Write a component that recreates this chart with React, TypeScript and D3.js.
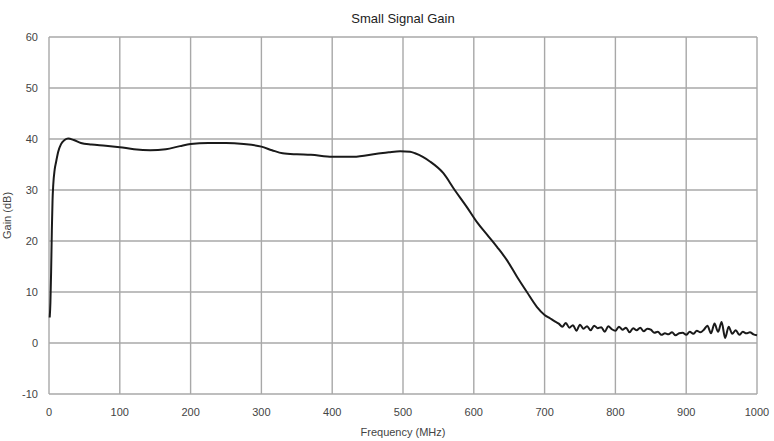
import React, { useEffect, useRef } from 'react';
import * as d3 from 'd3';

// Smooth part of the trace (MHz / dB)
const freqMain = [1, 2, 3, 4, 5, 6, 8, 10, 13, 17, 22, 27, 35, 45, 60, 80, 100, 120, 143, 165, 185, 200, 225, 250, 275, 300, 315, 330, 350, 370, 400, 430, 463, 480, 496, 510, 517, 528, 538, 557, 573, 590, 605, 619, 633, 647, 661, 675, 689, 700, 708, 715];
const gainMain = [5, 8, 14, 22, 28, 31, 34, 35.5, 37.5, 39, 39.8, 40.1, 39.8, 39.2, 38.9, 38.7, 38.4, 38.0, 37.8, 38.0, 38.6, 39.0, 39.2, 39.2, 39.0, 38.5, 37.8, 37.2, 37.0, 36.9, 36.5, 36.5, 37.1, 37.4, 37.6, 37.5, 37.2, 36.5, 35.6, 33.3, 30, 26.7, 23.6, 21.2, 18.8, 16.2, 13, 10, 7.1, 5.5, 4.8, 4.2];

// Noisy tail above the cutoff, read every 5 MHz
const freqTail = [720, 725, 730, 735, 740, 745, 750, 755, 760, 765, 770, 775, 780, 785, 790, 795, 800, 805, 810, 815, 820, 825, 830, 835, 840, 845, 850, 855, 860, 865, 870, 875, 880, 885, 890, 895, 900, 905, 910, 915, 920, 925, 930, 935, 940, 945, 950, 955, 960, 965, 970, 975, 980, 985, 990, 995, 1000];
const gainTail = [3.8, 3.2, 3.9, 3.0, 3.5, 2.4, 3.6, 2.8, 3.3, 2.5, 3.4, 2.9, 3.1, 2.2, 3.3, 2.7, 2.4, 3.2, 2.6, 3.0, 2.1, 2.9, 2.5, 3.0, 2.3, 2.8, 2.6, 2.0, 2.2, 1.6, 1.9, 1.7, 2.1, 1.5, 1.9, 2.0, 1.6, 2.2, 1.8, 2.4, 2.1, 2.6, 3.4, 1.9, 3.8, 2.2, 4.1, 1.0, 3.2, 1.8, 2.5, 1.6, 2.2, 1.9, 2.1, 1.7, 1.5];

const xTicks = [0, 100, 200, 300, 400, 500, 600, 700, 800, 900, 1000];
const yTicks = [-10, 0, 10, 20, 30, 40, 50, 60];

const W = 774;
const H = 441;
const FONT = 'Liberation Sans, Arial, sans-serif';

const App: React.FC = () => {
  const svgRef = useRef<SVGSVGElement>(null);

  useEffect(() => {
    const svg = d3.select(svgRef.current);
    svg.selectAll('*').remove();

    const margin = { top: 37, right: 17, bottom: 47, left: 49 };
    const innerW = W - margin.left - margin.right;
    const innerH = H - margin.top - margin.bottom;

    const x = d3.scaleLinear().domain([0, 1000]).range([0, innerW]);
    const y = d3.scaleLinear().domain([-10, 60]).range([innerH, 0]);

    const data: [number, number][] = [
      ...freqMain.map((f, i) => [f, gainMain[i]] as [number, number]),
      ...freqTail.map((f, i) => [f, gainTail[i]] as [number, number]),
    ];

    svg.append('rect').attr('width', W).attr('height', H).attr('fill', '#fff');

    const g = svg.append('g').attr('transform', `translate(${margin.left},${margin.top})`);

    // Grid
    g.selectAll('.vgrid')
      .data(xTicks)
      .enter()
      .append('line')
      .attr('x1', d => x(d))
      .attr('x2', d => x(d))
      .attr('y1', 0)
      .attr('y2', innerH)
      .attr('stroke', '#a8a8a8')
      .attr('stroke-width', 1.4);

    g.selectAll('.hgrid')
      .data(yTicks)
      .enter()
      .append('line')
      .attr('x1', 0)
      .attr('x2', innerW)
      .attr('y1', d => y(d))
      .attr('y2', d => y(d))
      .attr('stroke', '#a8a8a8')
      .attr('stroke-width', 1.4);

    // Tick labels
    g.selectAll('.ylab')
      .data(yTicks)
      .enter()
      .append('text')
      .attr('x', -11)
      .attr('y', d => y(d))
      .attr('dy', '0.35em')
      .attr('text-anchor', 'end')
      .attr('font-family', FONT)
      .attr('font-size', 11)
      .attr('fill', '#444')
      .text(d => d);

    g.selectAll('.xlab')
      .data(xTicks)
      .enter()
      .append('text')
      .attr('x', d => x(d))
      .attr('y', innerH + 22)
      .attr('text-anchor', 'middle')
      .attr('font-family', FONT)
      .attr('font-size', 11)
      .attr('fill', '#444')
      .text(d => d);

    // Trace
    const line = d3.line<[number, number]>()
      .x(d => x(d[0]))
      .y(d => y(d[1]))
      .curve(d3.curveMonotoneX);

    g.append('path')
      .datum(data)
      .attr('d', line)
      .attr('fill', 'none')
      .attr('stroke', '#1a1a1a')
      .attr('stroke-width', 2)
      .attr('stroke-linejoin', 'round');

    // Titles
    svg.append('text')
      .attr('x', margin.left + innerW / 2)
      .attr('y', 23)
      .attr('text-anchor', 'middle')
      .attr('font-family', FONT)
      .attr('font-size', 13)
      .attr('fill', '#222')
      .text('Small Signal Gain');

    svg.append('text')
      .attr('x', margin.left + innerW / 2)
      .attr('y', 436)
      .attr('text-anchor', 'middle')
      .attr('font-family', FONT)
      .attr('font-size', 11)
      .attr('fill', '#444')
      .text('Frequency (MHz)');

    svg.append('text')
      .attr('transform', `translate(11,${margin.top + y(25)}) rotate(-90)`)
      .attr('text-anchor', 'middle')
      .attr('font-family', FONT)
      .attr('font-size', 11)
      .attr('fill', '#444')
      .text('Gain (dB)');
  }, []);

  return (
    <div style={{ position: 'absolute', left: 0, top: 0 }}>
      <svg ref={svgRef} width={W} height={H}></svg>
    </div>
  );
};

export default App;
